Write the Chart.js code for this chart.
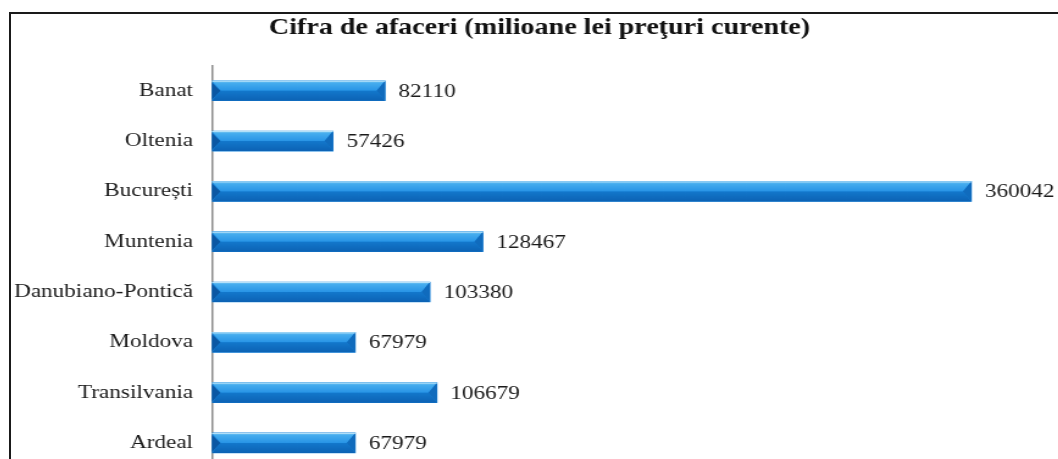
<!DOCTYPE html>
<html>
<head>
<meta charset="utf-8">
<script src="https://cdn.jsdelivr.net/npm/chart.js@4.4.1/dist/chart.umd.min.js"></script>
<style>
  html, body { margin: 0; padding: 0; background: #fff; overflow: hidden; }
  body { width: 1058px; height: 459px; position: relative; }
  #frame {
    position: absolute; left: 9px; top: 12px; width: 1100px; height: 500px;
    border-top: 2px solid #1a1a1a; border-left: 2px solid #1a1a1a;
  }
  #wrap {
    position: absolute; left: -24px; top: 0; width: 887px; height: 495px;
    transform: scaleX(1.22); transform-origin: 0 0;
  }
</style>
</head>
<body>
<div id="frame"></div>
<div id="wrap"><canvas id="chart"></canvas></div>
<script>
  // Data
  const regions = ['Banat', 'Oltenia', 'București', 'Muntenia', 'Danubiano-Pontică', 'Moldova', 'Transilvania', 'Ardeal'];
  const turnover = [82110, 57426, 360042, 128467, 103380, 67979, 106679, 67979];
  const axisMax = 400000;

  // Draw each bar as a bevelled blue bar on top of the element Chart.js placed
  const bevelBars = {
    id: 'bevelBars',
    afterLayout(chart) {
      // nudge the title so it sits where the original one does
      const t = chart.titleBlock;
      if (t) { t.left += 14.4; t.right += 14.4; }
    },
    afterDatasetsDraw(chart) {
      const ctx = chart.ctx;
      const meta = chart.getDatasetMeta(0);
      meta.data.forEach((bar, i) => {
        const left = bar.base, right = bar.x;
        const top = bar.y - bar.height / 2, bottom = bar.y + bar.height / 2;
        const mid = top + bar.height * 0.5;
        const b = 7;
        ctx.save();
        // top face
        const g = ctx.createLinearGradient(0, top, 0, mid);
        g.addColorStop(0, '#7cc8f4');
        g.addColorStop(0.25, '#45acee');
        g.addColorStop(1, '#2894e6');
        ctx.fillStyle = g;
        ctx.beginPath();
        ctx.moveTo(left, top); ctx.lineTo(right, top);
        ctx.lineTo(right - b, mid); ctx.lineTo(left + b, mid);
        ctx.closePath(); ctx.fill();
        // bottom face
        const g2 = ctx.createLinearGradient(0, mid, 0, bottom);
        g2.addColorStop(0, '#1378cc');
        g2.addColorStop(1, '#0c62b4');
        ctx.fillStyle = g2;
        ctx.beginPath();
        ctx.moveTo(left + b, mid); ctx.lineTo(right - b, mid);
        ctx.lineTo(right, bottom); ctx.lineTo(left, bottom);
        ctx.closePath(); ctx.fill();
        // end faces
        ctx.fillStyle = '#0b57a3';
        ctx.beginPath();
        ctx.moveTo(left, top + 2); ctx.lineTo(left + b, mid); ctx.lineTo(left, bottom - 1);
        ctx.closePath(); ctx.fill();
        ctx.fillStyle = '#106bbd';
        ctx.beginPath();
        ctx.moveTo(right, top); ctx.lineTo(right - b, mid); ctx.lineTo(right, bottom);
        ctx.closePath(); ctx.fill();
        // highlight line on top edge
        ctx.strokeStyle = 'rgba(190,228,250,0.9)';
        ctx.lineWidth = 1;
        ctx.beginPath();
        ctx.moveTo(left, top + 0.5); ctx.lineTo(right, top + 0.5);
        ctx.stroke();
        // value label
        ctx.fillStyle = '#1a1a1a';
        ctx.font = '19px "Liberation Serif", "Times New Roman", serif';
        ctx.textAlign = 'left';
        ctx.textBaseline = 'middle';
        ctx.fillText(String(turnover[i]), right + 11, bar.y + 1);
        ctx.restore();
      });
    }
  };

  new Chart(document.getElementById('chart'), {
    type: 'bar',
    data: {
      labels: regions,
      datasets: [{
        data: turnover,
        backgroundColor: '#1a86dc',
        borderWidth: 0,
        barThickness: 20
      }]
    },
    options: {
      indexAxis: 'y',
      responsive: true,
      maintainAspectRatio: false,
      animation: false,
      layout: { padding: { left: 10, right: 2, top: 0, bottom: 4 } },
      scales: {
        x: {
          display: false,
          min: 0,
          max: axisMax
        },
        y: {
          grid: { display: false, drawTicks: false },
          border: { display: true, color: '#8c8c8c', width: 1.5 },
          ticks: {
            padding: 15.5,
            color: '#1a1a1a',
            font: { family: '"Liberation Serif", "Times New Roman", serif', size: 19 }
          },
          afterFit(scale) { scale.width = 183.4; }
        }
      },
      plugins: {
        legend: { display: false },
        tooltip: { enabled: false },
        title: {
          display: true,
          text: 'Cifra de afaceri (milioane lei preţuri curente)',
          color: '#111',
          font: { family: '"Liberation Serif", "Times New Roman", serif', size: 23, weight: 'bold' },
          padding: { top: 14, bottom: 24 }
        }
      }
    },
    plugins: [bevelBars]
  });
</script>
</body>
</html>
